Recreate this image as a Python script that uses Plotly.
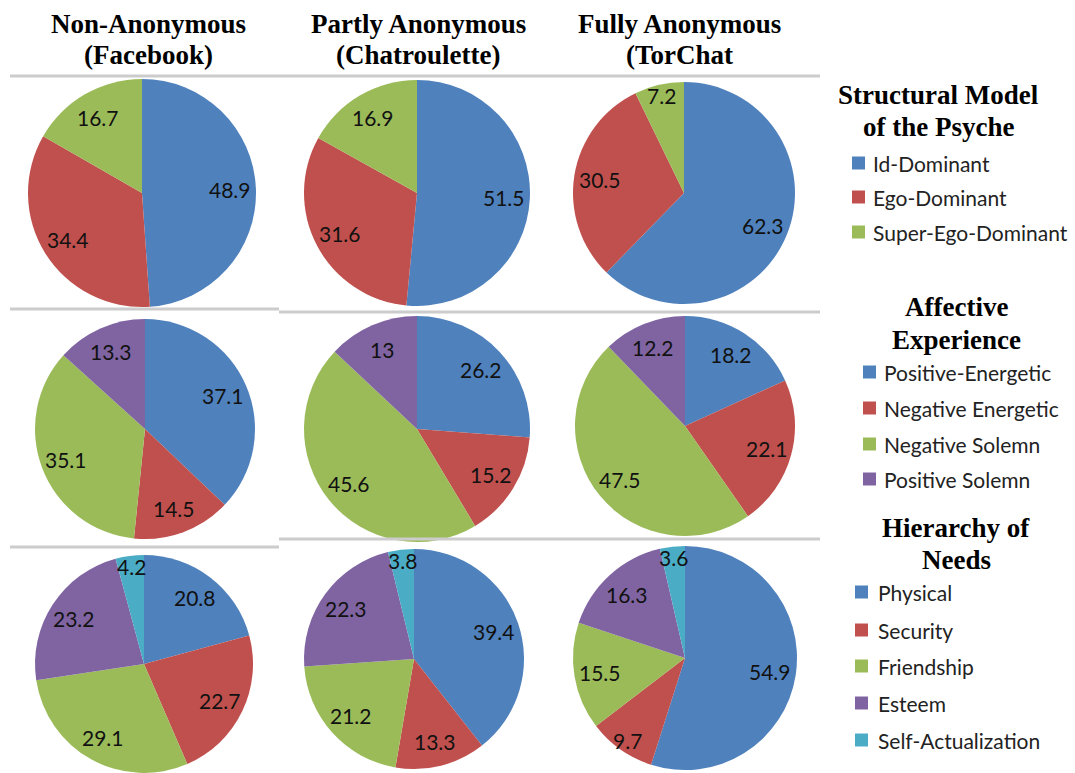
import math
import plotly.graph_objects as go

W, H = 1075, 773

# ---------------- data ----------------
column_titles = [["Non-Anonymous", "(Facebook)"],
                 ["Partly Anonymous", "(Chatroulette)"],
                 ["Fully Anonymous", "(TorChat"]]

psyche_title = ["Structural Model", "of the Psyche"]
psyche_labels = ["Id-Dominant", "Ego-Dominant", "Super-Ego-Dominant"]
psyche_facebook = [48.9, 34.4, 16.7]
psyche_chatroulette = [51.5, 31.6, 16.9]
psyche_torchat = [62.3, 30.5, 7.2]

affect_title = ["Affective", "Experience"]
affect_labels = ["Positive-Energetic", "Negative Energetic", "Negative Solemn", "Positive Solemn"]
affect_facebook = [37.1, 14.5, 35.1, 13.3]
affect_chatroulette = [26.2, 15.2, 45.6, 13]
affect_torchat = [18.2, 22.1, 47.5, 12.2]

needs_title = ["Hierarchy of", "Needs"]
needs_labels = ["Physical", "Security", "Friendship", "Esteem", "Self-Actualization"]
needs_facebook = [20.8, 22.7, 29.1, 23.2, 4.2]
needs_chatroulette = [39.4, 13.3, 21.2, 22.3, 3.8]
needs_torchat = [54.9, 9.7, 15.5, 16.3, 3.6]

colors = ["#4F81BD", "#C0504D", "#9BBB59", "#8064A2", "#4BACC6"]

# ---------------- layout (pixels) ----------------
pie_centers = [
    [(142, 193), (417, 193), (684, 193)],
    [(145, 429), (417, 429), (685, 426)],
    [(144, 664), (414, 659), (685, 658)],
]
pie_radius = [
    [114, 113, 111],
    [110, 113, 110],
    [111, 110, 112],
]
header_x = [148, 418, 679]
header_y = [24, 55]

legend_title_x = [938, 956, 956]
legend_title_y = [[95, 127], [307, 340], [528, 560]]
legend_swatch_x = [852, 863, 855]
legend_text_x = [871, 882, 876]
legend_item_y = [[163, 197, 232], [372, 408, 444, 479], [592, 630, 666, 703, 740]]

rows = [
    (psyche_title, psyche_labels, [psyche_facebook, psyche_chatroulette, psyche_torchat]),
    (affect_title, affect_labels, [affect_facebook, affect_chatroulette, affect_torchat]),
    (needs_title, needs_labels, [needs_facebook, needs_chatroulette, needs_torchat]),
]

SERIF = "Liberation Serif, Times New Roman, serif"
SANS = "Lato, Carlito, Calibri, sans-serif"

fig = go.Figure()
annotations = []
shapes = []

def px_x(x):
    return x / W

def px_y(y):
    return 1 - y / H

for r, (title, labels, series) in enumerate(rows):
    for c, values in enumerate(series):
        cx, cy = pie_centers[r][c]
        R = pie_radius[r][c]
        # keep domain inside the page
        R = min(R, cx, W - cx, cy, H - cy)
        fig.add_trace(go.Pie(
            labels=labels,
            values=values,
            sort=False,
            direction="clockwise",
            rotation=0,
            textinfo="none",
            marker=dict(colors=colors[:len(values)], line=dict(width=0)),
            domain=dict(x=[px_x(cx - R), px_x(cx + R)], y=[px_y(cy + R), px_y(cy - R)]),
            showlegend=False,
            hovertemplate="%{label}: %{value}<extra></extra>",
        ))
        # data labels placed along each slice bisector
        total = sum(values)
        cum = 0.0
        for v in values:
            mid = (cum + v / 2) / total * 2 * math.pi
            cum += v
            f = 0.9 if v < 10 else 0.77
            lx = cx + f * R * math.sin(mid)
            ly = cy - f * R * math.cos(mid)
            annotations.append(dict(
                x=px_x(lx), y=px_y(ly), xref="paper", yref="paper",
                text=f"{v:g}", showarrow=False,
                font=dict(family=SANS, size=21, color="#111111"),
                xanchor="center", yanchor="middle",
            ))

    # legend block for the row
    for i, line in enumerate(title):
        annotations.append(dict(
            x=px_x(legend_title_x[r]), y=px_y(legend_title_y[r][i]),
            xref="paper", yref="paper", text=f"<b>{line}</b>", showarrow=False,
            font=dict(family=SERIF, size=27, color="#000000"),
            xanchor="center", yanchor="middle",
        ))
    for i, lab in enumerate(labels):
        yy = legend_item_y[r][i]
        sx = legend_swatch_x[r]
        shapes.append(dict(
            type="rect", xref="paper", yref="paper",
            x0=px_x(sx), x1=px_x(sx + 13), y0=px_y(yy + 6.5), y1=px_y(yy - 6.5),
            fillcolor=colors[i], line=dict(width=0),
        ))
        annotations.append(dict(
            x=px_x(legend_text_x[r]), y=px_y(yy), xref="paper", yref="paper",
            text=lab, showarrow=False,
            font=dict(family=SANS, size=21, color="#222222"),
            xanchor="left", yanchor="middle",
        ))

# column headers
for c, lines in enumerate(column_titles):
    for i, line in enumerate(lines):
        annotations.append(dict(
            x=px_x(header_x[c]), y=px_y(header_y[i]), xref="paper", yref="paper",
            text=f"<b>{line}</b>", showarrow=False,
            font=dict(family=SERIF, size=27, color="#000000"),
            xanchor="center", yanchor="middle",
        ))

# separator lines
separators = [
    (10, 820, 76),
    (10, 279, 309), (279, 820, 312),
    (10, 279, 547), (279, 820, 539),
]
for x0, x1, y in separators:
    shapes.append(dict(
        type="line", xref="paper", yref="paper",
        x0=px_x(x0), x1=px_x(x1), y0=px_y(y), y1=px_y(y),
        line=dict(color="#CCCCCC", width=3),
    ))

fig.update_layout(
    width=W, height=H,
    margin=dict(l=0, r=0, t=0, b=0),
    paper_bgcolor="white", plot_bgcolor="white",
    annotations=annotations, shapes=shapes,
    showlegend=False,
)

fig.write_html("out.html")
